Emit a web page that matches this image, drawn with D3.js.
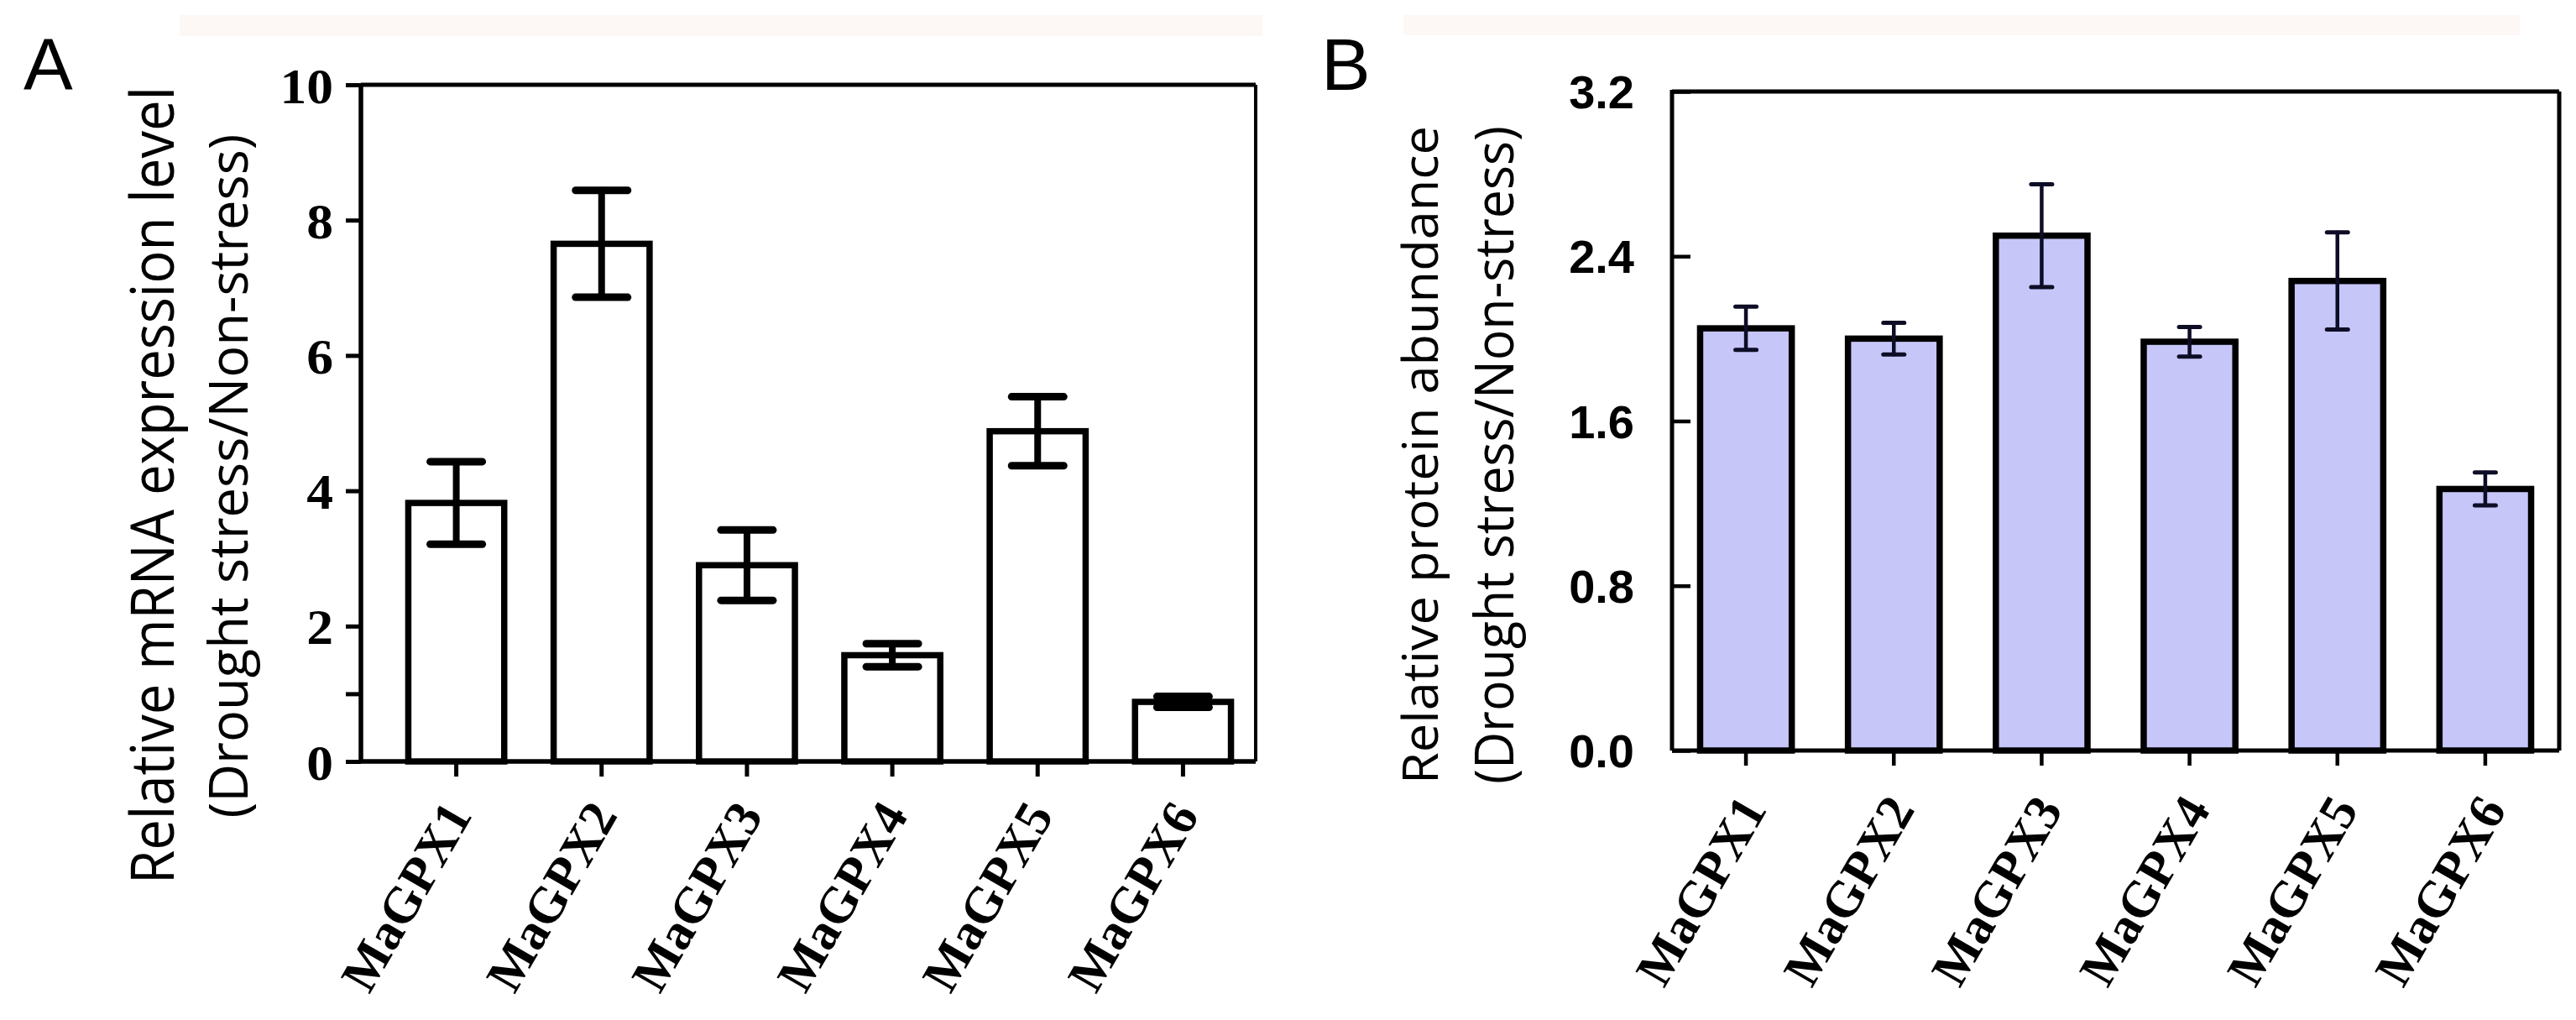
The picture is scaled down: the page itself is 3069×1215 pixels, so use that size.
<!DOCTYPE html>
<html>
<head>
<meta charset="utf-8">
<script src="https://cdn.jsdelivr.net/npm/d3@7"></script>
<style>
  body { margin: 0; background: #fff; }
</style>
</head>
<body>
<div id="chart"></div>
<script>
// Relative expression of MaGPX genes under drought stress

const genes = ["MaGPX1", "MaGPX2", "MaGPX3", "MaGPX4", "MaGPX5", "MaGPX6"];

// Panel A: qRT-PCR, mean and error
const mrnaMean = [3.82, 7.65, 2.90, 1.57, 4.88, 0.88];
const mrnaErr  = [0.61, 0.79, 0.52, 0.17, 0.51, 0.08];
const mrnaTicks = [0, 1, 2, 4, 6, 8, 10];
const mrnaLabels = ["0", "", "2", "4", "6", "8", "10"];

// Panel B: protein abundance, mean and error
const protMean = [2.05, 2.00, 2.50, 1.985, 2.28, 1.27];
const protErr  = [0.105, 0.077, 0.25, 0.072, 0.236, 0.08];
const protTicks = [0, 0.8, 1.6, 2.4, 3.2];
const protLabels = ["0.0", "0.8", "1.6", "2.4", "3.2"];

const W = 3069, H = 1215;

const svg = d3.select("#chart")
    .append("svg")
    .attr("width", W)
    .attr("height", H);

svg.append("rect")
    .attr("width", W)
    .attr("height", H)
    .attr("fill", "#fff");

// faint scan bands along the top
svg.append("rect").attr("x", 214).attr("y", 18).attr("width", 1290).attr("height", 25).attr("fill", "#fdf7f6");
svg.append("rect").attr("x", 1672).attr("y", 18).attr("width", 1330).attr("height", 24).attr("fill", "#fdf7f6");

function drawPanel(cfg) {
    const g = svg.append("g");

    const x = d3.scaleBand()
        .domain(genes)
        .range(cfg.band)
        .paddingInner(cfg.pad)
        .paddingOuter(cfg.pad / 2);

    const y = d3.scaleLinear()
        .domain(cfg.domain)
        .range([cfg.bottom, cfg.top]);

    // bars
    g.append("g")
        .selectAll("rect")
        .data(genes)
        .join("rect")
        .attr("x", d => x(d))
        .attr("width", x.bandwidth())
        .attr("y", (d, i) => y(cfg.means[i]))
        .attr("height", (d, i) => y(0) - y(cfg.means[i]))
        .attr("fill", cfg.fill)
        .attr("stroke", "#000")
        .attr("stroke-width", cfg.barStroke);

    // error bars
    const err = g.append("g")
        .attr("stroke", cfg.errColor)
        .attr("stroke-width", cfg.errStroke)
        .attr("stroke-linecap", "round");

    genes.forEach((d, i) => {
        const cx = x(d) + x.bandwidth() / 2;
        const hi = y(cfg.means[i] + cfg.errs[i]);
        const lo = y(cfg.means[i] - cfg.errs[i]);
        err.append("line").attr("x1", cx).attr("x2", cx).attr("y1", hi).attr("y2", lo);
        err.append("line").attr("x1", cx - cfg.cap).attr("x2", cx + cfg.cap).attr("y1", hi).attr("y2", hi)
            .attr("stroke-width", cfg.capStroke);
        err.append("line").attr("x1", cx - cfg.cap).attr("x2", cx + cfg.cap).attr("y1", lo).attr("y2", lo)
            .attr("stroke-width", cfg.capStroke);
    });

    // frame
    const frame = g.append("g").attr("stroke", "#000").attr("fill", "none");
    frame.append("line").attr("x1", cfg.left).attr("x2", cfg.right).attr("y1", cfg.top).attr("y2", cfg.top)
        .attr("stroke-width", cfg.topStroke);
    frame.append("line").attr("x1", cfg.right).attr("x2", cfg.right).attr("y1", cfg.top).attr("y2", cfg.bottom)
        .attr("stroke-width", cfg.rightStroke);
    frame.append("line").attr("x1", cfg.left).attr("x2", cfg.left).attr("y1", cfg.top - 2).attr("y2", cfg.bottom)
        .attr("stroke-width", cfg.axisStroke);
    frame.append("line").attr("x1", cfg.left).attr("x2", cfg.right).attr("y1", cfg.bottom).attr("y2", cfg.bottom)
        .attr("stroke-width", cfg.axisStroke);

    // y axis
    const yAxis = d3.axisLeft(y)
        .tickValues(cfg.ticks)
        .tickFormat((d, i) => cfg.tickLabels[i])
        .tickSize(cfg.yTickLen)
        .tickSizeOuter(0)
        .tickPadding(cfg.yTickPad);

    const ya = g.append("g")
        .attr("transform", `translate(${cfg.left},0)`)
        .call(yAxis);
    ya.select(".domain").remove();
    ya.selectAll("line").attr("stroke", "#000").attr("stroke-width", cfg.tickStroke);
    ya.selectAll("text")
        .attr("x", 0)
        .attr("dy", "0.35em")
        .attr("transform", `translate(${-cfg.yLabelGap},0) scale(${cfg.yLabelStretch},1)`)
        .attr("fill", "#000")
        .style("font-family", cfg.tickFont)
        .style("font-weight", "bold")
        .style("font-size", cfg.tickSize + "px");

    // x axis
    const xAxis = d3.axisBottom(x)
        .tickSize(cfg.xTickLen)
        .tickSizeOuter(0);

    const xa = g.append("g")
        .attr("transform", `translate(0,${cfg.bottom})`)
        .call(xAxis);
    xa.select(".domain").remove();
    xa.selectAll("line").attr("stroke", "#000").attr("stroke-width", cfg.tickStroke);
    xa.selectAll("text")
        .attr("y", 0)
        .attr("dy", 0)
        .attr("text-anchor", "end")
        .attr("transform", `translate(${cfg.xLabelDx},${cfg.xLabelDy}) rotate(-60)`)
        .attr("fill", "#000")
        .style("font-family", "'Liberation Serif', 'Times New Roman', serif")
        .style("font-weight", "bold")
        .style("font-size", "61px");

    // y title, two lines
    cfg.titles.forEach(t => {
        g.append("text")
            .attr("transform", `translate(${t.x},${t.y}) rotate(-90)`)
            .attr("text-anchor", "middle")
            .attr("textLength", t.len)
            .attr("lengthAdjust", "spacingAndGlyphs")
            .attr("fill", "#000")
            .style("font-family", "'Open Sans', 'Noto Sans', sans-serif")
            .style("font-size", t.size + "px")
            .text(t.text);
    });

    // panel letter
    g.append("text")
        .attr("x", cfg.letterX)
        .attr("y", 107)
        .attr("fill", "#000")
        .style("font-family", "'Liberation Sans', Arial, sans-serif")
        .style("font-size", "88px")
        .text(cfg.letter);
}

drawPanel({
    letter: "A", letterX: 28,
    means: mrnaMean, errs: mrnaErr,
    domain: [0, 10], ticks: mrnaTicks, tickLabels: mrnaLabels,
    left: 430, right: 1496, top: 101, bottom: 907,
    band: [457, 1496], pad: 0.34,
    fill: "#fff", barStroke: 7.5,
    errColor: "#000", errStroke: 8, capStroke: 9, cap: 31,
    topStroke: 5, rightStroke: 4, axisStroke: 5.5, tickStroke: 5,
    yTickLen: 18, yTickPad: 15, yLabelGap: 33, yLabelStretch: 1.06,
    tickFont: "'Liberation Serif', 'Times New Roman', serif", tickSize: 60,
    xTickLen: 18, xLabelDx: 20, xLabelDy: 64,
    titles: [
        { text: "Relative mRNA expression level", x: 207, y: 578, len: 950, size: 72 },
        { text: "(Drought stress/Non-stress)", x: 295, y: 567, len: 815, size: 64 }
    ]
});

drawPanel({
    letter: "B", letterX: 1574,
    means: protMean, errs: protErr,
    domain: [0, 3.2], ticks: protTicks, tickLabels: protLabels,
    left: 1992, right: 3049, top: 109, bottom: 894,
    band: [1992, 3049], pad: 0.38,
    fill: "#c6c6f9", barStroke: 7.5,
    errColor: "#0d0d26", errStroke: 4.5, capStroke: 5, cap: 12.5,
    topStroke: 5, rightStroke: 5, axisStroke: 5, tickStroke: 4.5,
    yTickLen: -22, yTickPad: 45, yLabelGap: 45, yLabelStretch: 1,
    tickFont: "'Liberation Sans', Arial, sans-serif", tickSize: 56,
    xTickLen: 18, xLabelDx: 26, xLabelDy: 70,
    titles: [
        { text: "Relative protein abundance", x: 1713, y: 542, len: 784, size: 58 },
        { text: "(Drought stress/Non-stress)", x: 1803, y: 542, len: 784, size: 64 }
    ]
});
</script>
</body>
</html>
